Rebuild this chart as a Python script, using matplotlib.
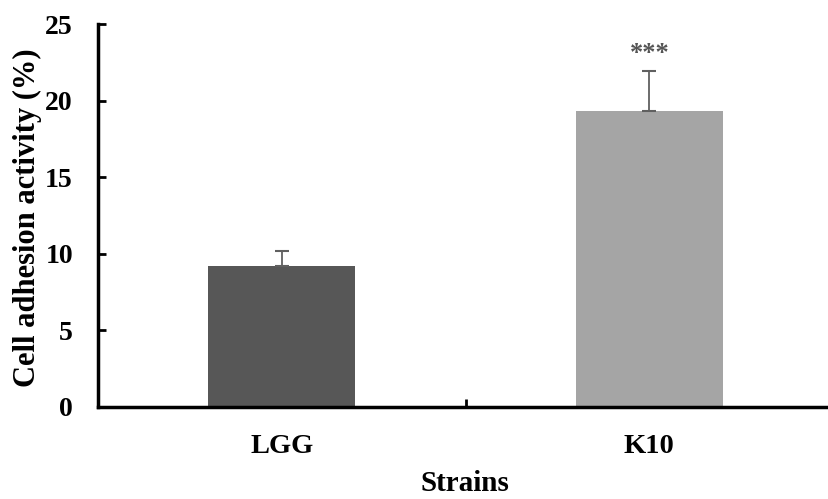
import matplotlib
matplotlib.use("Agg")
import matplotlib.pyplot as plt

categories = ["LGG", "K10"]
values = [9.2, 19.3]
errors = [0.95, 2.65]
colors = ["#575757", "#a5a5a5"]
yticks = [0, 5, 10, 15, 20, 25]
significance = ["", "***"]

plt.rcParams['font.family'] = ['Liberation Serif', 'DejaVu Serif']
plt.rcParams['font.weight'] = 'bold'

fig = plt.figure(figsize=(8.29, 4.99), dpi=100)
ax = fig.add_axes([0.1182, 0.1844, 0.8868, 0.7675])

x = list(range(len(categories)))
ax.bar(x, values, width=0.4, color=colors, zorder=2)
ax.errorbar(x, values, yerr=[[0] * len(errors), errors], fmt='none',
            ecolor='#606060', elinewidth=1.3, capsize=5, capthick=1.5, zorder=3)
for xi, v, e, s in zip(x, values, errors, significance):
    if s:
        ax.text(xi, v + e + 0.4, s, ha='center', va='bottom', fontsize=19,
                color='#555555', fontweight='bold')

ax.set_xlim(-0.5, 1.5)
ax.set_ylim(0, 25)
ax.set_yticks(yticks)
ax.set_yticklabels([str(t) for t in yticks], fontsize=20, fontweight='bold')
ax.set_xticks([0.5], minor=False)
ax.set_xticklabels([""])
ax.tick_params(axis='x', direction='in', length=6, width=2)
ax.tick_params(axis='y', direction='in', length=6, width=2, pad=18)

for xi, c in zip(x, categories):
    ax.text(xi, -2.55, c, ha='center', va='center', fontsize=20.5, fontweight='bold',
            transform=ax.transData, clip_on=False)

fig.text(0.5607, 0.032, "Strains", ha='center', va='center', fontsize=21, fontweight='bold')
fig.text(0.0326, 0.563, "Cell adhesion activity (%)", ha='center', va='center',
         rotation=90, fontsize=22, fontweight='bold')

ax.spines['top'].set_visible(False)
ax.spines['right'].set_visible(False)
ax.spines['left'].set_linewidth(2.5)
ax.spines['bottom'].set_linewidth(2.5)

fig.savefig("out.png", dpi=100)
